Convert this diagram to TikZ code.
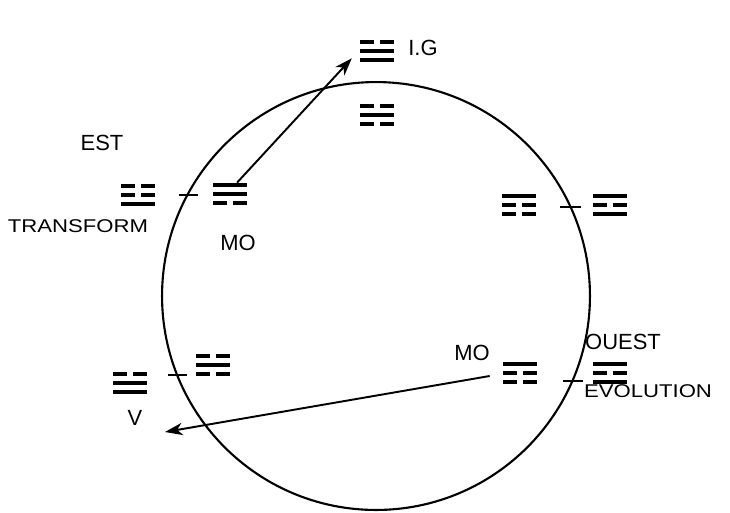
\documentclass[tikz,border=0pt]{standalone}
\usepackage{fontspec}
\setmainfont{Liberation Sans}
\newfontfamily\widesans[FakeStretch=1.2]{Liberation Sans}
\usetikzlibrary{arrows.meta,calc}

\tikzset{
  trig/.style={minimum width=19.3pt,minimum height=12.5pt,inner sep=0pt},
  biglabel/.style={font=\fontsize{12.5}{14}\selectfont,inner sep=0pt},
  smalllabel/.style={font=\widesans\fontsize{10.5}{12}\selectfont,inner sep=0pt},
  conn/.style={line width=1.1pt,-{Stealth[length=10pt,width=7pt,inset=3pt]}},
  tick/.style={line width=1.4pt}
}

% trigram: name, position, lines from top to bottom (1 = solid, 0 = broken)
\newcommand{\trigram}[3]{%
  \node[trig] (#1) at (#2) {};
  \begin{scope}[shift={(#1.center)}]
    \foreach \b [count=\i] in {#3} {
      \pgfmathsetmacro{\yy}{(\i-2)*8.7}
      \ifnum\b=1
        \draw[line width=2.4pt] (-17,\yy) -- (17,\yy);
      \else
        \draw[line width=2.4pt] (-17,\yy) -- (-3,\yy) (3,\yy) -- (17,\yy);
      \fi
    }
  \end{scope}
}

\begin{document}
\begin{tikzpicture}[x=0.02cm,y=-0.02cm]
\useasboundingbox (0,0) rectangle (730,512);

\draw[line width=1.2pt] (376,296) circle[radius=4.28cm];

% trigrams
\trigram{ig}{377,51}{0,1,1}
\trigram{top}{377,115}{0,1,0}
\trigram{est}{138,195}{0,0,1}
\trigram{moa}{230,194}{1,1,0}
\trigram{rin}{519,205}{1,0,0}
\trigram{rout}{610,205}{1,0,1}
\trigram{v}{130,383}{0,1,1}
\trigram{lin}{213,365}{0,1,0}
\trigram{mob}{520,373}{1,0,0}
\trigram{ouest}{610,373}{1,0,1}

% ticks on the circle
\draw[tick] (179,195) -- (198,195);
\draw[tick] (560,207) -- (581,207);
\draw[tick] (168,375) -- (187,375);
\draw[tick] (563,381) -- (583,381);

% labels
\node[biglabel] (igl) at (423,48) {I.G};
\node[biglabel] (estl) at (102,143) {EST};
\node[smalllabel] (transl) at (78,226) {TRANSFORM};
\node[biglabel] (moal) at (238,243) {MO};
\node[biglabel] (mobl) at (472,353) {MO};
\node[biglabel] (ouestl) at (623,342) {OUEST};
\node[smalllabel] (evol) at (648,391) {EVOLUTION};
\node[biglabel] (vl) at (135,418) {V};

% arrows
\coordinate (vtip) at (165,432);
\draw[conn] ([xshift=4pt]moa.north) -- ([shift={(-4.5pt,2.3pt)}]ig.south west);
\draw[conn] ([shift={(-7.4pt,-1.7pt)}]mob.west) -- (vtip);
\end{tikzpicture}
\end{document}
